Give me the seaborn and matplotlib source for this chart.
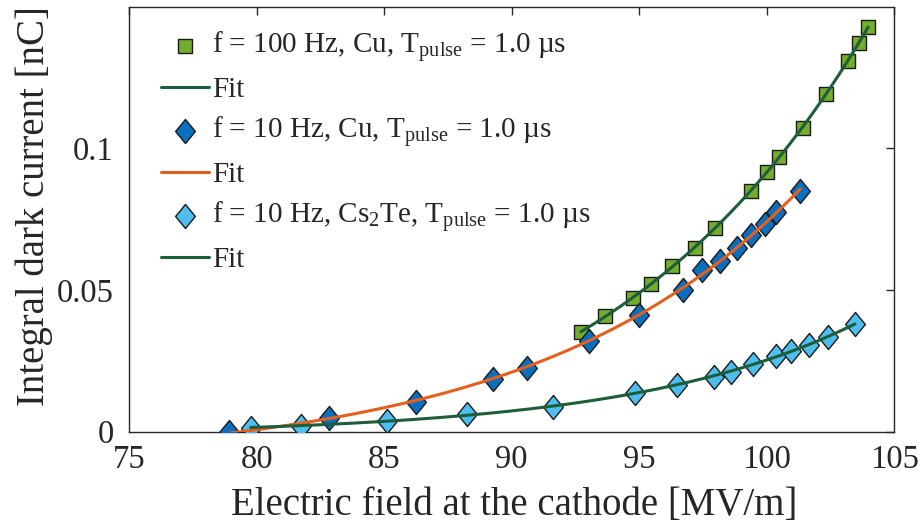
import numpy as np
import matplotlib
matplotlib.use("Agg")
import matplotlib.pyplot as plt
from matplotlib.path import Path
import seaborn as sns

# Measured integral dark current vs. cathode field
cu100_field = [92.71, 93.67, 94.75, 95.45, 96.27, 97.19, 97.98, 99.37, 100.00,
               100.48, 101.42, 102.32, 103.18, 103.62, 103.98]
cu100_charge = [0.0351, 0.0409, 0.0471, 0.0520, 0.0586, 0.0647, 0.0720, 0.0848,
                0.0917, 0.0970, 0.1073, 0.1192, 0.1309, 0.1373, 0.1429]

cu10_field = [78.93, 82.82, 86.25, 89.28, 90.59, 93.04, 94.98, 96.73, 97.46,
              98.17, 98.82, 99.38, 99.93, 100.38, 101.31]
cu10_charge = [0.0000, 0.0047, 0.0106, 0.0185, 0.0226, 0.0321, 0.0412, 0.0500,
               0.0571, 0.0604, 0.0650, 0.0694, 0.0733, 0.0775, 0.0849]

cste_field = [79.76, 81.73, 85.12, 88.26, 91.61, 94.85, 96.49, 97.93, 98.59,
              99.45, 100.36, 100.94, 101.67, 102.42, 103.46]
cste_charge = [0.0014, 0.0020, 0.0039, 0.0062, 0.0086, 0.0138, 0.0165, 0.0194,
               0.0212, 0.0239, 0.0267, 0.0286, 0.0306, 0.0335, 0.0380]

labels = [r"f = 100 Hz, Cu, T$_\mathrm{pulse}$ = 1.0 µs",
          r"f = 10 Hz, Cu, T$_\mathrm{pulse}$ = 1.0 µs",
          r"f = 10 Hz, Cs$_\mathrm{2}$Te, T$_\mathrm{pulse}$ = 1.0 µs"]

x_ticks = [75, 80, 85, 90, 95, 100, 105]
y_ticks = [0, 0.05, 0.1]
y_tick_labels = ["0", "0.05", "0.1"]

c_green = "#74AC2C"
c_blue = "#0A70BE"
c_light = "#4DBEEE"
c_orange = "#E5601F"
c_fit_green = "#1D5E3A"
c_ink = "#262626"

# Slightly tall diamond marker
tall_diamond = Path([(0, 1), (0.82, 0), (0, -1), (-0.82, 0), (0, 1)],
                    [Path.MOVETO, Path.LINETO, Path.LINETO, Path.LINETO,
                     Path.CLOSEPOLY])


def exp_fit(x, y, n=200):
    """Least-squares fit of y = a*exp(b*x) + c; returns a smooth curve over the data range."""
    x = np.asarray(x, float)
    y = np.asarray(y, float)
    xm = x.mean()
    best = None
    for b in np.linspace(0.01, 0.5, 2451):
        A = np.column_stack([np.exp(b * (x - xm)), np.ones_like(x)])
        coef, *_ = np.linalg.lstsq(A, y, rcond=None)
        r = np.sum((y - A @ coef) ** 2)
        if best is None or r < best[0]:
            best = (r, coef, b)
    _, (a, c), b = best
    xs = np.linspace(x.min(), x.max(), n)
    return xs, a * np.exp(b * (xs - xm)) + c


sns.set_theme(style="white")
plt.rcParams["font.family"] = ["Liberation Serif", "DejaVu Serif"]
plt.rcParams["mathtext.fontset"] = "custom"
plt.rcParams["mathtext.rm"] = "Liberation Serif"
plt.rcParams["mathtext.it"] = "Liberation Serif:italic"

fig = plt.figure(figsize=(9.2, 5.23), dpi=100)
ax = fig.add_axes([129.2 / 920, 1 - 431.7 / 523, 765.0 / 920, 425.0 / 523])

series = [
    (cu100_field, cu100_charge, "s", 105, c_green, c_fit_green, labels[0]),
    (cu10_field, cu10_charge, tall_diamond, 300, c_blue, c_orange, labels[1]),
    (cste_field, cste_charge, tall_diamond, 300, c_light, c_fit_green, labels[2]),
]

for fx, fy, mk, size, fc, lc, lab in series:
    sns.scatterplot(x=fx, y=fy, marker=mk, s=size, color=fc, edgecolor="#1a1a1a",
                    linewidth=1.0, ax=ax, label=lab, zorder=3)
    xs, ys = exp_fit(fx, fy)
    sns.lineplot(x=xs, y=ys, color=lc, linewidth=2.2, ax=ax, label="Fit",
                 zorder=4, sort=False)

ax.set_xlim(75, 105)
ax.set_ylim(0, 0.15)
ax.set_xticks(x_ticks)
ax.set_xticklabels([str(t) for t in x_ticks])
ax.set_yticks(y_ticks)
ax.set_yticklabels(y_tick_labels)
ax.tick_params(direction="in", length=6, width=1, top=True, right=True,
               labelsize=23.5, colors=c_ink)
ax.tick_params(axis="x", pad=9)
ax.tick_params(axis="y", pad=11)
for sp in ax.spines.values():
    sp.set_color(c_ink)
    sp.set_linewidth(1.0)

ax.set_xlabel("Electric field at the cathode [MV/m]", fontsize=28, color=c_ink)
ax.set_ylabel("Integral dark current [nC]", fontsize=28, color=c_ink)
ax.xaxis.set_label_coords(0.503, -0.131)
ax.yaxis.set_label_coords(-0.100, 0.53)

leg = ax.legend(loc="upper left", frameon=False, fontsize=21,
                handlelength=1.65, handletextpad=0.12, labelspacing=0.40,
                borderaxespad=0.0, bbox_to_anchor=(0.026, 0.972),
                markerscale=1.0)
for t in leg.get_texts():
    t.set_color(c_ink)

fig.savefig("out.png", dpi=100)
